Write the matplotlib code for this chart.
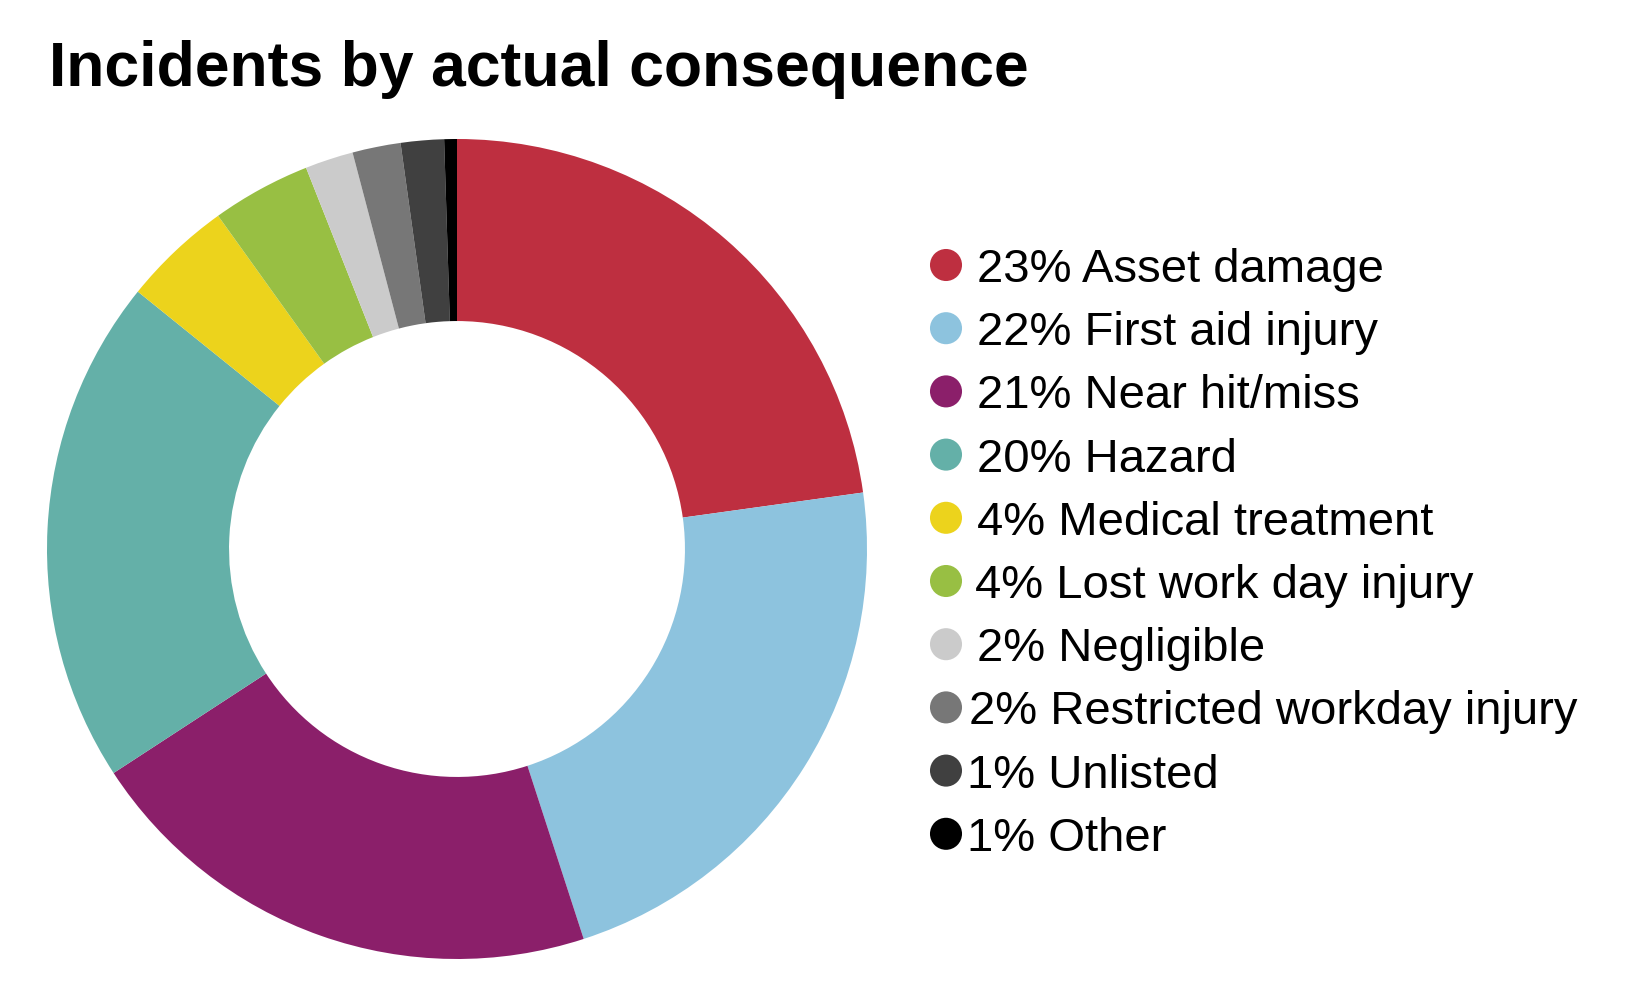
import matplotlib
matplotlib.use("Agg")
import matplotlib.pyplot as plt

plt.rcParams['font.family'] = ['Liberation Sans', 'DejaVu Sans']

categories = ["Asset damage", "First aid injury", "Near hit/miss", "Hazard",
              "Medical treatment", "Lost work day injury", "Negligible",
              "Restricted workday injury", "Unlisted", "Other"]
shares = [22.8, 22.2, 20.8, 20.0, 4.3, 3.9, 1.9, 1.9, 1.7, 0.5]
pct_labels = ["23%", "22%", "21%", "20%", "4%", "4%", "2%", "2%", "1%", "1%"]
colors = ["#BE2F40", "#8DC3DE", "#8B1F6A", "#64B0A8", "#ECD31C",
          "#98BF43", "#CBCBCB", "#777777", "#404040", "#000000"]

W, H = 1630, 996
fig = plt.figure(figsize=(W / 100, H / 100), dpi=100)

# donut: centre (457, 549) px, outer radius 410 px
cx, cy, r = 457, 549, 410
ax = fig.add_axes([(cx - r) / W, (H - cy - r) / H, 2 * r / W, 2 * r / H])
ax.pie(shares, colors=colors, startangle=90, counterclock=False, radius=1,
       wedgeprops=dict(width=0.444, linewidth=0))
ax.set_xlim(-1, 1)
ax.set_ylim(-1, 1)
ax.set_aspect("equal")
ax.axis("off")

fig.text(49 / W, 1 - 86 / H, "Incidents by actual consequence",
         fontsize=45, fontweight="bold", ha="left", va="baseline")

# legend drawn by hand
lax = fig.add_axes([0, 0, 1, 1])
lax.set_xlim(0, W)
lax.set_ylim(H, 0)
lax.axis("off")
row0, step = 265, 63.2
text_x = [977, 977, 977, 977, 977, 975, 977, 969, 967, 967]
for i, (cat, pct, col) in enumerate(zip(categories, pct_labels, colors)):
    y = row0 + i * step
    lax.scatter([946], [y], s=32 ** 2 * 0.52, color=col, edgecolors="none")
    lax.text(text_x[i], y, f"{pct} {cat}", fontsize=34, ha="left",
             va="center_baseline")

fig.savefig("out.png", dpi=100)
